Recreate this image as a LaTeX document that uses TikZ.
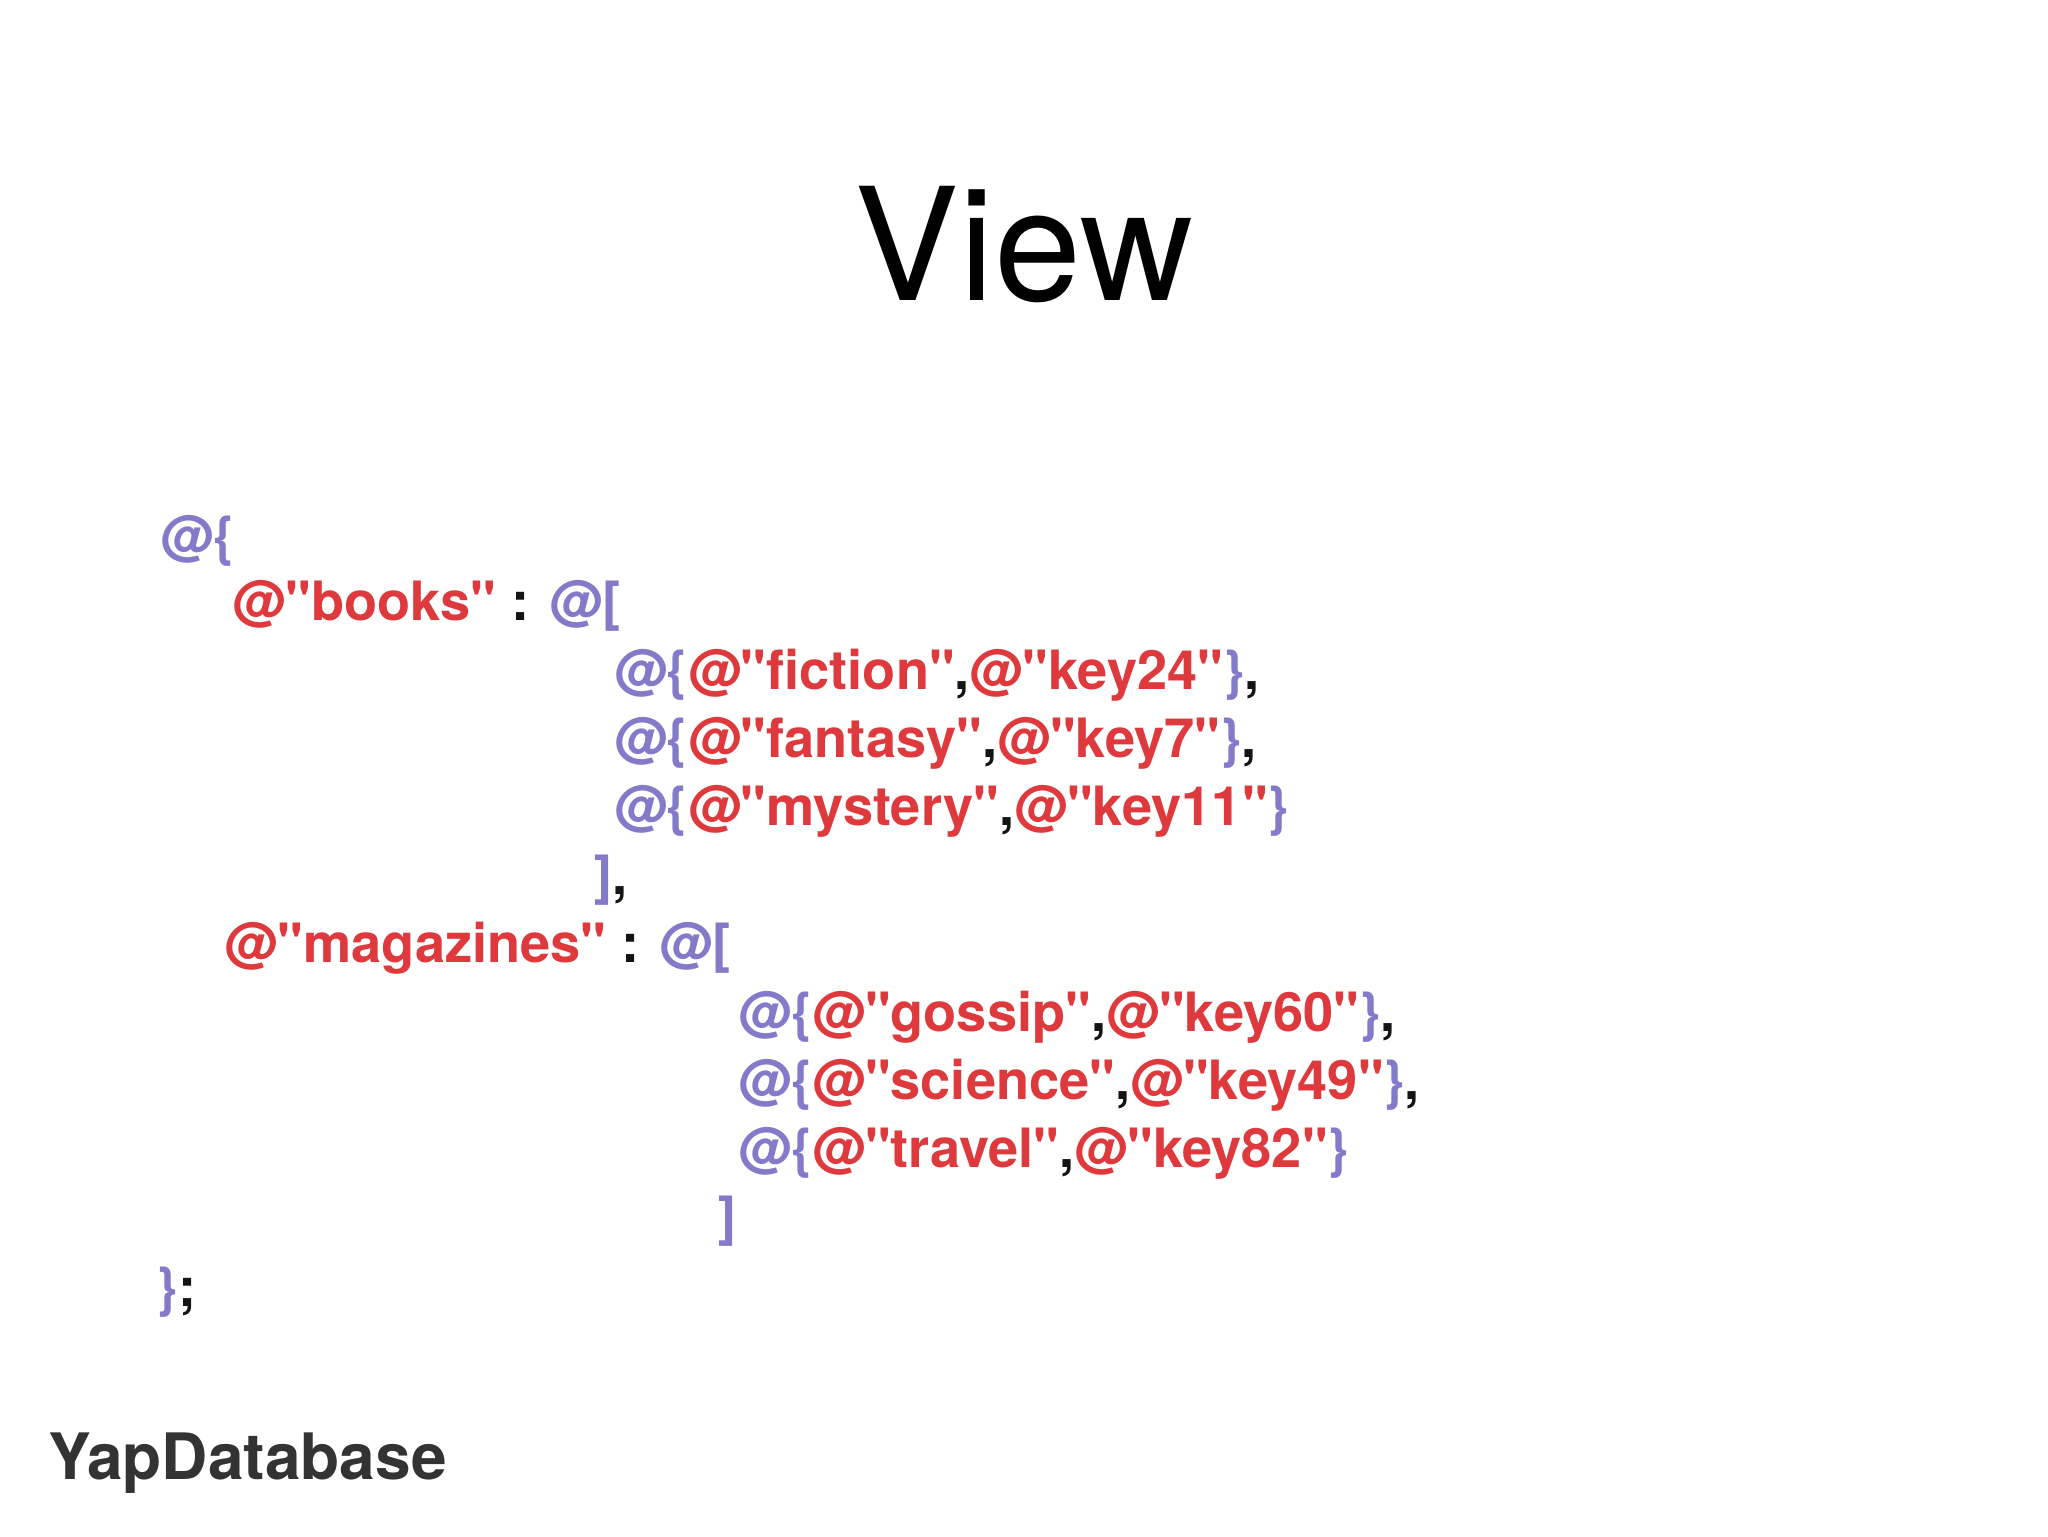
\documentclass[tikz,border=0pt]{standalone}
\usepackage{fontspec}
\setmainfont[Ligatures=NoCommon]{TeX Gyre Heros}
\definecolor{pur}{RGB}{132,122,202}
\definecolor{rd}{RGB}{222,58,62}
\definecolor{blk}{RGB}{20,20,20}
\newcommand{\cP}[1]{\textcolor{pur}{#1}}
\newcommand{\cR}[1]{\textcolor{rd}{#1}}
\newcommand{\cK}[1]{\textcolor{blk}{#1}}
\newcommand{\q}{\textquotedbl}
\begin{document}
\begin{tikzpicture}[x=1pt,y=1pt,
  code/.style={anchor=base west,inner sep=0pt,font=\fontsize{41.5}{41.5}\selectfont\bfseries}]
\useasboundingbox (0,0) rectangle (1568,1176);
\fill[white] (0,0) rectangle (1568,1176);
\node[anchor=base,inner sep=0pt,font=\fontsize{120}{120}\selectfont] (title) at (784,946) {View};
\node[code] (l1) at (123,751) {\cP{@\{}};
\node[code] (l2) at (178,701) {\cR{@\q books\q} \cK{:} \cP{@[}};
\node[code] (l3) at (470,648) {\cP{@\{}\cR{@\q fiction\q}\cK{,}\cR{@\q key24\q}\cP{\}}\cK{,}};
\node[code] (l4) at (470,596) {\cP{@\{}\cR{@\q fantasy\q}\cK{,}\cR{@\q key7\q}\cP{\}}\cK{,}};
\node[code] (l5) at (470,544) {\cP{@\{}\cR{@\q mystery\q}\cK{,}\cR{@\q key11\q}\cP{\}}};
\node[code] (l6) at (455,491) {\cP{]}\cK{,}};
\node[code] (l7) at (172,439) {\cR{@\q magazines\q} \cK{:} \cP{@[}};
\node[code] (l8) at (565,386) {\cP{@\{}\cR{@\q gossip\q}\cK{,}\cR{@\q key60\q}\cP{\}}\cK{,}};
\node[code] (l9) at (565,334) {\cP{@\{}\cR{@\q science\q}\cK{,}\cR{@\q key49\q}\cP{\}}\cK{,}};
\node[code] (l10) at (565,282) {\cP{@\{}\cR{@\q travel\q}\cK{,}\cR{@\q key82\q}\cP{\}}};
\node[code] (l11) at (550,230) {\cP{]}};
\node[code] (l12) at (120,176) {\cP{\}}\cK{;}};
\node[anchor=base west,inner sep=0pt,font=\fontsize{49}{49}\selectfont\bfseries,text=black!80] (brand) at (37,43) {YapDatabase};
\end{tikzpicture}
\end{document}
